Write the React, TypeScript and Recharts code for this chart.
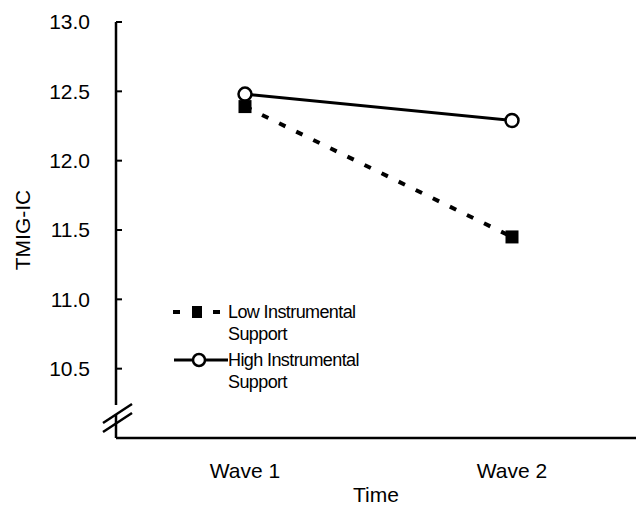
import React from 'react';
import { LineChart, Line, XAxis, YAxis, Legend } from 'recharts';

const categories = ['Wave 1', 'Wave 2'];
const lowSupport = [12.39, 11.45];
const highSupport = [12.48, 12.29];
const yTicks = [10.5, 11, 11.5, 12, 12.5, 13];
const seriesNames = ['Low Instrumental Support', 'High Instrumental Support'];

const data = categories.map((c, i) => ({ wave: c, low: lowSupport[i], high: highSupport[i] }));

const FONT = '"Liberation Sans", Arial, Helvetica, sans-serif';

const SquareDot = (props: any) => {
  const { cx, cy } = props;
  if (cx == null || cy == null) return null;
  return <rect x={cx - 6.5} y={cy - 6.5} width={13} height={13} fill="#000" />;
};

const CircleDot = (props: any) => {
  const { cx, cy } = props;
  if (cx == null || cy == null) return null;
  return <circle cx={cx} cy={cy} r={6.5} fill="#fff" stroke="#000" strokeWidth={2.5} />;
};

const LegendBox = () => (
  <div style={{ fontFamily: FONT, fontSize: 18, letterSpacing: -0.6, color: '#000', lineHeight: '22px' }}>
    <div style={{ display: 'flex', alignItems: 'flex-start' }}>
      <svg width={58} height={22}>
        <line x1={3} y1={11} x2={52} y2={11} stroke="#000" strokeWidth={4} strokeDasharray="7 13" />
        <rect x={22} y={5} width={10} height={12} fill="#000" />
      </svg>
      <div>
        <div>Low Instrumental</div>
        <div>Support</div>
      </div>
    </div>
    <div style={{ display: 'flex', alignItems: 'flex-start', marginTop: 4 }}>
      <svg width={58} height={22}>
        <line x1={4} y1={11} x2={58} y2={11} stroke="#000" strokeWidth={3} />
        <circle cx={29} cy={11} r={6} fill="#fff" stroke="#000" strokeWidth={2.5} />
      </svg>
      <div>
        <div>High Instrumental</div>
        <div>Support</div>
      </div>
    </div>
  </div>
);

export default function App() {
  return (
    <div style={{ position: 'absolute', left: 0, top: 0, width: 636, height: 506, background: '#fff' }}>
      <LineChart width={636} height={506} data={data} margin={{ top: 22, right: 0, bottom: 0, left: 0 }}>
        <XAxis
          dataKey="wave"
          height={68}
          padding={{ left: 129, right: 124 }}
          tickLine={false}
          tickSize={0}
          tickMargin={25}
          axisLine={{ stroke: '#000', strokeWidth: 2.5 }}
          tick={{ fill: '#000', fontSize: 21, fontFamily: FONT }}
          label={{ value: 'Time', position: 'insideBottom', offset: 4, fill: '#000', fontSize: 21, fontFamily: FONT }}
        />
        <YAxis
          width={116}
          domain={[10, 13]}
          ticks={yTicks}
          tickFormatter={(v: number) => v.toFixed(1)}
          tickSize={-6}
          tickMargin={32}
          axisLine={{ stroke: '#000', strokeWidth: 2.5 }}
          tickLine={{ stroke: '#000', strokeWidth: 2 }}
          tick={{ fill: '#000', fontSize: 21, fontFamily: FONT }}
          label={{
            value: 'TMIG-IC',
            angle: -90,
            position: 'insideLeft',
            offset: 23,
            fill: '#000',
            fontSize: 21,
            fontFamily: FONT,
            style: { textAnchor: 'middle' },
          }}
        />
        <Legend
          layout="vertical"
          align="center"
          verticalAlign="middle"
          content={<LegendBox />}
          wrapperStyle={{ position: 'absolute', left: 170, top: 301, width: 220, bottom: 'auto', right: 'auto' }}
        />
        <Line
          name={seriesNames[0]}
          dataKey="low"
          stroke="#000"
          strokeWidth={4}
          strokeDasharray="7 12"
          dot={<SquareDot />}
          isAnimationActive={false}
        />
        <Line
          name={seriesNames[1]}
          dataKey="high"
          stroke="#000"
          strokeWidth={3}
          dot={<CircleDot />}
          isAnimationActive={false}
        />
      </LineChart>
      <svg width={636} height={506} style={{ position: 'absolute', left: 0, top: 0, pointerEvents: 'none' }}>
        <rect x={110} y={405} width={12} height={10} fill="#fff" />
        <line x1={103} y1={423} x2={132} y2={404} stroke="#000" strokeWidth={2.5} />
        <line x1={103} y1={432} x2={132} y2={413} stroke="#000" strokeWidth={2.5} />
      </svg>
    </div>
  );
}
